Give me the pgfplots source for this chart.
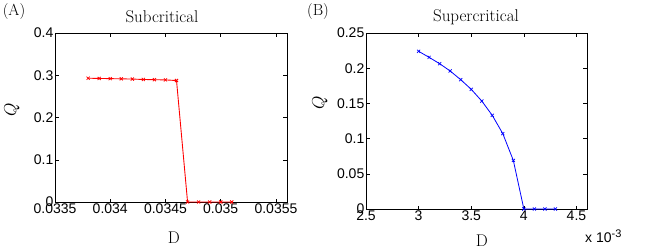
\documentclass[border=0pt]{standalone}
\usepackage{fontspec}
\usepackage{pgfplots}
\pgfplotsset{compat=1.18}
\newfontfamily\arial{Liberation Sans}
\begin{document}
\begin{tikzpicture}
\useasboundingbox (0pt,0pt) rectangle (649pt,-249pt);
\pgfplotsset{
  myax/.style={scale only axis,
    axis line style={black,line width=0.7pt},
    tick style={black,line width=0.5pt},
    tick align=inside, major tick length=3.5pt,
    tick label style={font=\arial\fontsize{14}{14}\selectfont, inner sep=1.5pt},
    /pgf/number format/assume math mode=true,
    scaled x ticks=false, scaled y ticks=false,
    ymin=0,
  },
}
\begin{axis}[myax, at={(55pt,-202pt)}, anchor=south west, width=232pt, height=169pt,
  xmin=0.0335, xmax=0.0356,
  xtick={0.0335,0.034,0.0345,0.035,0.0355},
  xticklabels={0.0335,0.034,0.0345,0.035,0.0355},
  ymax=0.4, ytick={0,0.1,0.2,0.3,0.4},
  yticklabels={0,0.1,0.2,0.3,0.4}]
\addplot[red, line width=0.9pt, mark=x, mark size=2.2pt, mark options={line width=0.8pt}] coordinates {
(0.0338,0.2930) (0.0339,0.2925) (0.0340,0.2920) (0.0341,0.2915) (0.0342,0.2910)
(0.0343,0.2900) (0.0344,0.2895) (0.0345,0.2890) (0.0346,0.2875)
(0.0347,0) (0.0348,0) (0.0349,0) (0.0350,0) (0.0351,0)};
\end{axis}
\begin{axis}[myax, at={(366pt,-209pt)}, anchor=south west, width=221pt, height=176pt,
  xmin=2.5, xmax=4.6,
  xtick={2.5,3,3.5,4,4.5},
  xticklabels={2.5,3,3.5,4,4.5},
  ymax=0.25, ytick={0,0.05,0.1,0.15,0.2,0.25},
  yticklabels={0,0.05,0.1,0.15,0.2,0.25}]
\addplot[blue, line width=0.8pt, mark=x, mark size=2.2pt, mark options={line width=0.7pt}] coordinates {
(3.0,0.224) (3.1,0.2154) (3.2,0.2064) (3.3,0.196) (3.4,0.1837)
(3.5,0.170) (3.6,0.1534) (3.7,0.133) (3.8,0.107) (3.9,0.069)
(4.0,0) (4.1,0) (4.2,0) (4.3,0)};
\end{axis}
\node[font=\fontsize{17}{17}\selectfont] at (162pt,-17pt) {Subcritical};
\node[font=\fontsize{17}{17}\selectfont] at (476pt,-17pt) {Supercritical};
\node[font=\fontsize{16}{16}\selectfont] at (14pt,-12pt) {(A)};
\node[font=\fontsize{16}{16}\selectfont] at (318pt,-12pt) {(B)};
\node[font=\fontsize{17}{17}\selectfont, rotate=90] at (12pt,-110pt) {$Q$};
\node[font=\fontsize{17}{17}\selectfont, rotate=90] at (320pt,-103pt) {$Q$};
\node[font=\fontsize{17}{17}\selectfont] at (174pt,-238pt) {D};
\node[font=\fontsize{17}{17}\selectfont] at (482pt,-241pt) {D};
\node[font=\arial\fontsize{14}{14}\selectfont, anchor=west, inner sep=0pt] at (585pt,-236pt) {x 10\raisebox{5pt}{\fontsize{11}{11}\selectfont -3}};
\end{tikzpicture}
\end{document}
